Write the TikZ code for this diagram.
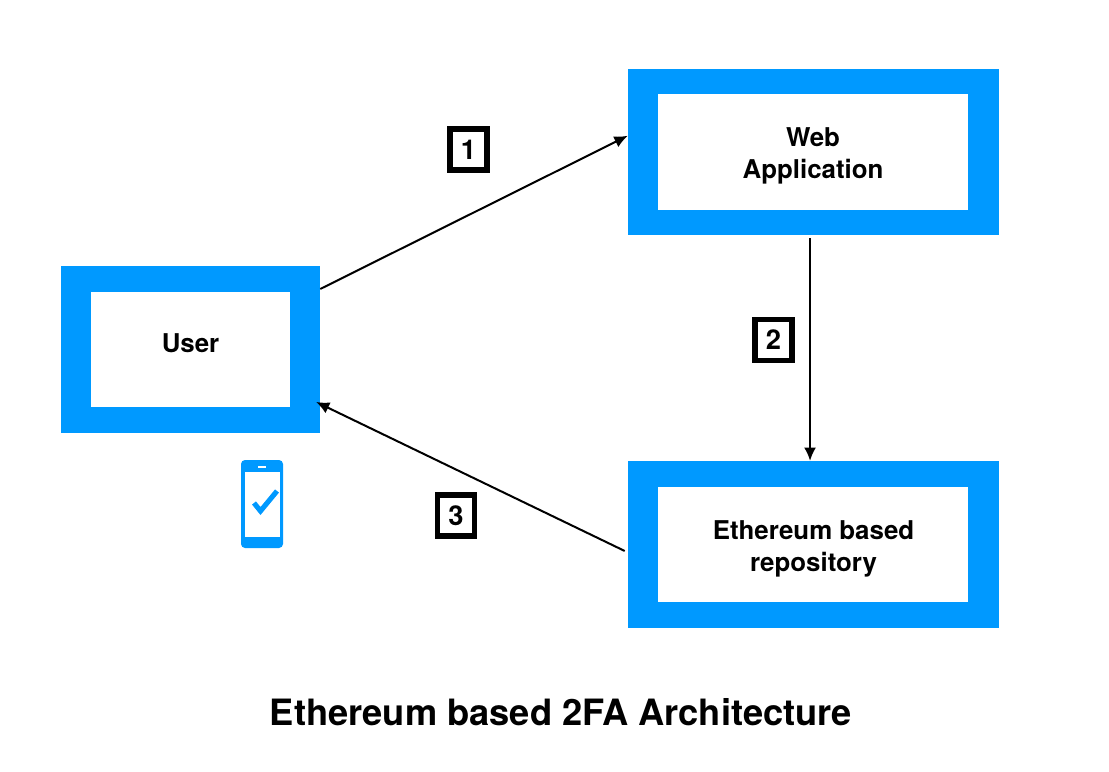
\documentclass[tikz,border=0pt]{standalone}
\usepackage{fontspec}
\setmainfont{TeX Gyre Heros}
\usetikzlibrary{arrows.meta}
\definecolor{boxblue}{HTML}{0099FF}
\tikzset{
    outerbox/.style={fill=boxblue, minimum width=#1, minimum height=125pt, inner sep=0pt},
    innerbox/.style={fill=white, inner sep=0pt},
    boxtext/.style={align=center, inner sep=0pt, font=\fontsize{19.4}{24}\selectfont\bfseries},
    stepbox/.style={draw, line width=4.2pt, minimum width=28pt, minimum height=31pt, inner sep=0pt,
        font=\fontsize{20.5}{20.5}\selectfont\bfseries},
    conn/.style={-{Latex[length=10pt,width=9pt]}, line width=1.5pt},
}
\begin{document}
\begin{tikzpicture}[x=0.75pt, y=-0.75pt]
    \useasboundingbox (0,0) rectangle (1109,771);

    \node (user) at (190.5,349.5) [outerbox=194.25pt] {};
    \node (web) at (813.5,152) [outerbox=278.25pt] {};
    \node (repo) at (813.5,544.5) [outerbox=278.25pt] {};

    \node (userin) at (190.5,349.5) [innerbox, minimum width=149.25pt, minimum height=86.25pt] {};
    \node (webin) at (813,152) [innerbox, minimum width=232.5pt, minimum height=87pt] {};
    \node (repoin) at (813,544.5) [innerbox, minimum width=232.5pt, minimum height=86.25pt] {};

    \node (usertext) at (190.5,343.5) [boxtext] {User};
    \node (webtext) at (813,155.5) [boxtext] {Web\\Application};
    \node (repotext) at (813.5,548.5) [boxtext] {Ethereum based\\repository};

    \node (one) at (468.5,149.5) [stepbox] {1};
    \node (two) at (773.5,340) [stepbox] {2};
    \node (three) at (456,515.5) [stepbox] {3};

    \draw [conn] (user.25.4) -- (web.175.1);
    \draw [conn] ([xshift=-2.6pt,yshift=-1.9pt]web.south) -- ([xshift=-2.6pt]repo.north);
    \draw [conn] ([xshift=-2.25pt]repo.182.2) -- ([xshift=-3.2pt]user.-22.6);

    % phone
    \fill [boxblue, rounded corners=3pt] (241,460) rectangle (283,548);
    \fill [white] (244.5,472) rectangle (279.5,537);
    \fill [white] (258,466) rectangle (266,468);
    \draw [boxblue, line width=3.8pt] (254,503) -- (260.5,511) -- (277,491);

    \node (title) at (561,712) [font=\fontsize{27.2}{27.2}\selectfont\bfseries] {Ethereum based 2FA Architecture};
\end{tikzpicture}
\end{document}
